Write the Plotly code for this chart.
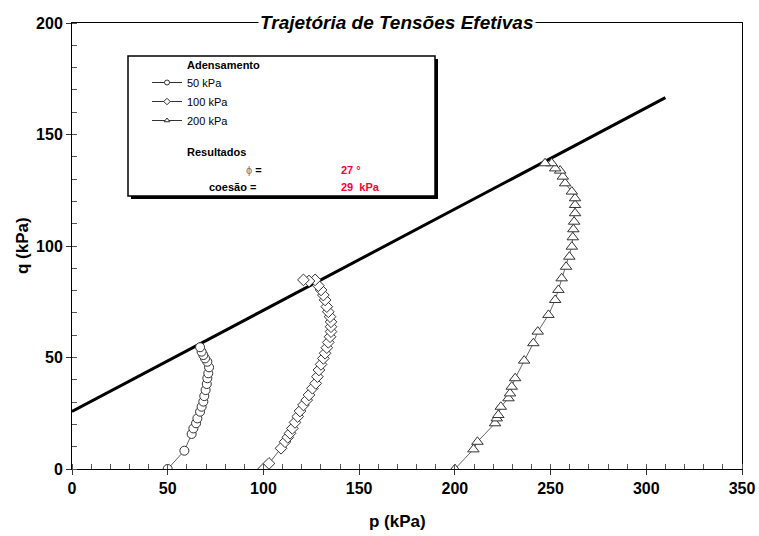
import plotly.graph_objects as go

# Stress paths (p, q) in kPa
p_50 = [50, 58.7, 62.5, 63.4, 64.8, 65.5, 66.9, 67.7, 68.6, 69.1, 69.8, 70.4, 70.7, 71.2, 71.6, 70.7, 69.5, 68.6, 67.7, 66.9]
q_50 = [0, 8.2, 15.7, 18.2, 20.5, 22.7, 25.7, 27.9, 30.2, 32.7, 35.4, 38.1, 40.7, 42.9, 45.6, 48.1, 49.6, 51.1, 52.6, 54.6]

p_100 = [100, 102.9, 109.2, 111.3, 112.7, 113.9, 115.1, 116.5, 117.9, 119.1, 120.9, 122.6, 123.8, 125.6, 127.3,
         128.2, 129.0, 130.1, 131.3, 132.2, 133.1, 133.9, 134.8, 135.3, 135.3, 135.3, 134.8, 133.9, 133.1, 132.2,
         131.3, 130.1, 128.7, 127.0, 123.8, 120.9]
q_100 = [0, 2.5, 9.3, 12.2, 14.2, 16.0, 18.2, 20.9, 23.5, 26.0, 28.7, 30.9, 33.2, 36.2, 38.4,
         41.4, 44.4, 46.9, 49.6, 51.9, 54.4, 56.8, 59.3, 61.6, 63.8, 66.0, 68.3, 70.5, 72.8, 75.8,
         78.0, 80.3, 82.2, 84.8, 84.3, 84.8]

p_200 = [200, 209.7, 211.8, 221.0, 221.9, 222.7, 224.0, 228.0, 228.8, 229.7, 231.5, 236.2, 241.0, 243.3, 248.9,
         252.4, 254.1, 255.8, 258.1, 259.8, 261.1, 261.6, 261.9, 262.3, 262.8, 262.8, 262.8, 261.1, 257.6, 256.4,
         255.0, 252.4, 250.6, 247.1]
q_200 = [0, 8.8, 12.2, 20.5, 22.7, 24.2, 27.9, 31.7, 33.9, 36.9, 40.7, 48.6, 56.4, 61.6, 69.1,
         75.8, 80.3, 85.5, 90.7, 95.2, 99.7, 103.9, 107.5, 110.9, 114.7, 118.4, 121.4, 124.4, 128.1, 131.1,
         133.8, 134.8, 137.1, 137.1]

# Failure envelope (Kf line)
fail_p = [0, 310]
fail_q = [25.8, 166.5]

series_names = ["50 kPa", "100 kPa", "200 kPa"]
symbols = ["circle", "diamond", "triangle-up"]

fig = go.Figure()
fig.add_trace(go.Scatter(x=fail_p, y=fail_q, mode="lines", line=dict(color="black", width=3),
                         showlegend=False, hoverinfo="skip"))

paths = [(p_50, q_50), (p_100, q_100), (p_200, q_200)]
sizes = [9, 9, 10]
for (px, qy), name, sym, sz in zip(paths, series_names, symbols, sizes):
    fig.add_trace(go.Scatter(
        x=px, y=qy, mode="lines+markers", name=name, showlegend=False,
        line=dict(color="#666666", width=1),
        marker=dict(symbol=sym, size=sz, color="white", line=dict(color="#333333", width=1)),
    ))
    # legend sample (small marker)
    fig.add_trace(go.Scatter(
        x=[None], y=[None], mode="lines+markers", name=name,
        line=dict(color="#333333", width=1),
        marker=dict(symbol=sym, size=5, color="white", line=dict(color="#333333", width=1)),
    ))

L, R, T, B = 72, 742, 23, 469

def px2x(px):
    return (px - L) / float(R - L)

def py2y(py):
    return (B - py) / float(B - T)

font_bold = "Liberation Sans Narrow, Liberation Sans, Arial, sans-serif"

shapes = [
    dict(type="rect", xref="paper", yref="paper", x0=px2x(131), x1=px2x(438), y0=py2y(199), y1=py2y(59),
         fillcolor="black", line=dict(width=0), layer="above"),
    dict(type="rect", xref="paper", yref="paper", x0=px2x(128), x1=px2x(435), y0=py2y(196), y1=py2y(56),
         fillcolor="white", line=dict(color="black", width=1.5), layer="above"),
]

small = dict(family="Liberation Sans, Arial, sans-serif", size=11, color="black")
red = dict(family="Liberation Sans, Arial, sans-serif", size=11, color="#FF0033")
annotations = [
    dict(text="<b><i>Trajetória de Tensões Efetivas</i></b>", x=px2x(397), y=py2y(22), xref="paper", yref="paper",
         showarrow=False, xanchor="center", yanchor="middle", bgcolor="white", borderpad=1,
         font=dict(family=font_bold, size=19, color="black")),
    dict(text="<b>p (kPa)</b>", x=px2x(397), y=py2y(521), xref="paper", yref="paper", showarrow=False,
         xanchor="center", yanchor="middle", font=dict(family=font_bold, size=17, color="black")),
    dict(text="<b>q (kPa)</b>", x=px2x(22), y=py2y(246), xref="paper", yref="paper", showarrow=False,
         textangle=-90, xanchor="center", yanchor="middle", font=dict(family=font_bold, size=17, color="black")),
    dict(text="<b>Adensamento</b>", x=px2x(185), y=py2y(65), xref="paper", yref="paper", showarrow=False,
         xanchor="left", yanchor="middle", font=small),
    dict(text="<b>Resultados</b>", x=px2x(185), y=py2y(152), xref="paper", yref="paper", showarrow=False,
         xanchor="left", yanchor="middle", font=small),
    dict(text="<span style='color:#777777'>ϕ</span> <b>=</b>", x=px2x(264), y=py2y(170), xref="paper", yref="paper",
         showarrow=False, xanchor="right", yanchor="middle", font=small),
    dict(text="<b>coesão =</b>", x=px2x(258), y=py2y(187), xref="paper", yref="paper", showarrow=False,
         xanchor="right", yanchor="middle", font=small),
    dict(text="<b>27 °</b>", x=px2x(339), y=py2y(170), xref="paper", yref="paper", showarrow=False,
         xanchor="left", yanchor="middle", font=red),
    dict(text="<b>29  kPa</b>", x=px2x(339), y=py2y(187), xref="paper", yref="paper", showarrow=False,
         xanchor="left", yanchor="middle", font=red),
]

axis_common = dict(showgrid=False, zeroline=False, showline=True, linecolor="black", linewidth=1,
                   mirror=True, ticks="outside", ticklen=5, tickcolor="#333333", automargin=False,
                   tickfont=dict(family=font_bold, size=16, color="black", weight="bold"),
                   minor=dict(ticks="inside", ticklen=5, dtick=10, tickcolor="#555555", showgrid=False))

W, H = 759, 536
fig.update_layout(
    width=W, height=H,
    margin=dict(l=L, r=W - R, t=T, b=H - B, autoexpand=False),
    paper_bgcolor="white", plot_bgcolor="white",
    xaxis=dict(range=[0, 350], dtick=50, **axis_common),
    yaxis=dict(range=[0, 200], dtick=50, **axis_common),
    shapes=shapes,
    annotations=annotations,
    showlegend=True,
    legend=dict(x=px2x(147), y=py2y(68), xanchor="left", yanchor="top", bgcolor="rgba(0,0,0,0)",
                borderwidth=0, font=small, tracegroupgap=0),
)

# remove the page's default body margin so the figure fills the 759x536 window exactly
fig.write_html("out.html", config={"displayModeBar": False},
               post_script="document.body.style.margin='0';document.body.style.overflow='hidden';")
